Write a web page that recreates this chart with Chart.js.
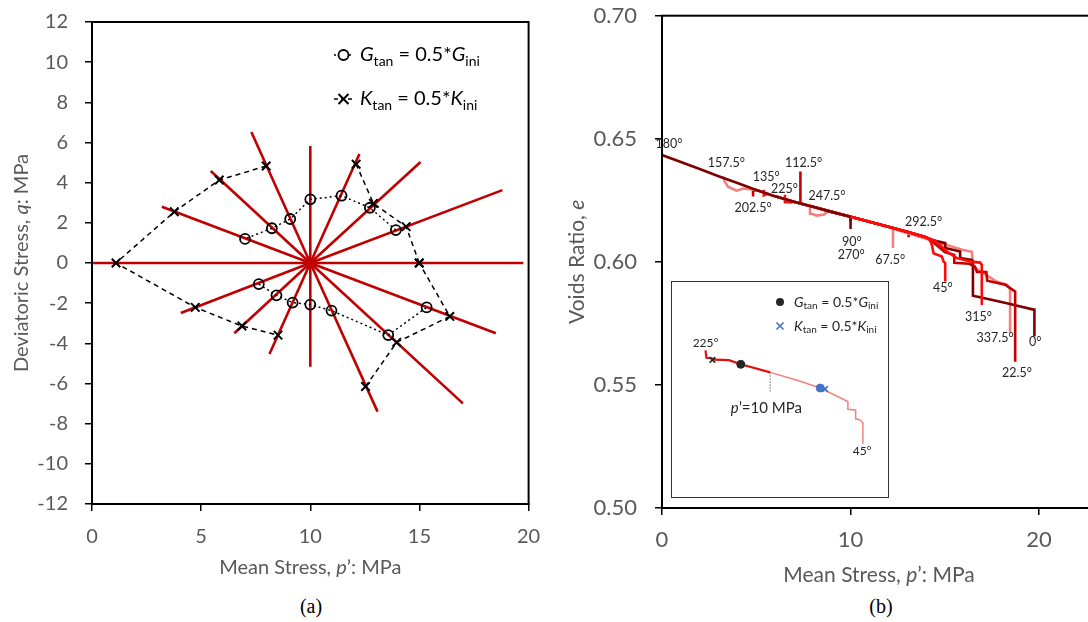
<!DOCTYPE html>
<html>
<head>
<meta charset="utf-8">
<script src="https://cdn.jsdelivr.net/npm/chart.js@4.4.1/dist/chart.umd.min.js"></script>
<style>
  html, body { margin: 0; padding: 0; background: #fff; }
  body { width: 1088px; height: 622px; overflow: hidden; position: relative; }
  .panel { position: absolute; top: 0; }
  #panelA { left: 0; }
  #panelB { left: 540px; }
  #inset { position: absolute; left: 671px; top: 281px; width: 218px; height: 217px;
           box-sizing: border-box; border: 1.5px solid #333; background: #fff; }
  #inset canvas { position: absolute; left: 0; top: 0; }
  .caption { position: absolute; top: 595px; font-family: "Liberation Serif", serif; font-size: 20px;
             color: #000; transform: translateX(-50%); }
</style>
</head>
<body>
<div class="panel" id="panelA"><canvas id="chartA" width="545" height="590"></canvas></div>
<div class="panel" id="panelB"><canvas id="chartB" width="610" height="590"></canvas></div>
<div id="inset"><canvas id="chartInset" width="215" height="214"></canvas></div>
<div class="caption" style="left:311px">(a)</div>
<div class="caption" style="left:881px">(b)</div>
<script>
// ---------- (a) stress paths in p'-q space ----------
const probeAngles = [0, 22.5, 45, 67.5, 90, 112.5, 135, 157.5, 180, 202.5, 225, 247.5, 270, 292.5, 315, 337.5];
const startP = 10, startQ = 0;
const probeEndP = [19.76, 18.8, 15.05, 12.25, 10.0, 7.3, 5.44, 3.2, 0.05, 4.07, 6.52, 8.13, 10.0, 13.08, 16.99, 18.5];
const probeEndQ = [0, 3.63, 5.03, 5.43, 5.83, 6.52, 4.58, 2.8, 0, -2.49, -3.5, -4.53, -5.17, -7.4, -6.99, -3.5];

// G_tan = 0.5*G_ini points, one per probe (null where none)
const gTanP = [null, 13.92, 12.73, 11.43, 10.0, 9.08, 8.24, 7.01, null, 7.64, 8.45, 9.19, 10.0, 10.97, 13.57, 15.33];
const gTanQ = [null, 1.64, 2.75, 3.35, 3.17, 2.19, 1.73, 1.2, null, -1.05, -1.61, -1.97, -2.07, -2.37, -3.59, -2.21];
// K_tan = 0.5*K_ini points
const kTanP = [14.99, 14.39, 12.89, 12.10, null, 7.98, 5.83, 3.77, 1.10, 4.73, 6.87, 8.52, null, 12.53, 13.96, 16.39];
const kTanQ = [0, 1.81, 2.97, 4.92, null, 4.83, 4.13, 2.55, 0, -2.21, -3.14, -3.59, null, -6.15, -3.95, -2.66];

// ---------- (b) voids ratio vs mean stress ----------
const baseP = [0, 1, 2, 3, 4, 5, 6, 7, 8, 9, 10, 11, 12, 13, 14];
const baseE = [0.6434, 0.6406, 0.6377, 0.6348, 0.6320, 0.6292, 0.6266, 0.6244, 0.6224, 0.6203, 0.6183, 0.6163, 0.6143, 0.6122, 0.6100];

const tail0   = [[14.31,0.6089],[15.02,0.6076],[15.02,0.6056],[15.81,0.6042],[15.81,0.6015],[16.43,0.6008],[16.49,0.6001],[16.49,0.5862],[17.05,0.5853],[18.29,0.5832],[19.70,0.5806],[19.75,0.5806],[19.75,0.5697]];
const tail22  = [[14.3,0.6085],[15.0,0.6040],[15.5,0.6028],[15.5,0.5996],[16.3,0.5992],[16.6,0.5980],[16.7,0.5959],[17.2,0.5959],[17.25,0.5923],[18.2,0.5907],[18.6,0.5886],[18.73,0.5880],[18.73,0.5594]];
const tail45  = [[14.2,0.6090],[14.31,0.6069],[14.4,0.6035],[14.84,0.6022],[14.93,0.6001],[15.02,0.5995],[15.02,0.5920]];
const tail67  = [[12.25,0.6135],[12.25,0.6056]];
const tail90  = [[10,0.6183],[10,0.6133]];
const tail112 = [[7.34,0.6237],[7.34,0.6367]];
const tail135 = [[5.6,0.6276],[5.4,0.6270],[5.4,0.6293]];
const tail157 = [[4.3,0.6298],[3.95,0.6289],[3.5,0.6305],[3.33,0.6326],[3.24,0.6346]];
const tail180 = [[0,0.6434]];
const tail202 = [[4.83,0.6288],[4.83,0.6265]];
const tail225 = [[6.84,0.6241],[6.52,0.6243],[6.52,0.6273]];
const tail247 = [[8.8,0.6205],[8.6,0.6192],[8.2,0.6188],[7.9,0.6196],[7.85,0.6222]];
const tail270 = [[10,0.6183],[10,0.6165]];
const tail292 = [[13.08,0.6117],[13.08,0.6100]];
const tail315 = [[14.5,0.6085],[15.11,0.6042],[15.64,0.6015],[16.43,0.6001],[16.87,0.5997],[16.96,0.5988],[16.96,0.5825]];
const tail337 = [[12.63,0.6125],[14.75,0.6077],[15.92,0.6049],[16.43,0.6041],[16.5,0.5980],[17.03,0.5955],[17.76,0.5919],[18.29,0.5907],[18.46,0.5890],[18.46,0.5712]];
const probeTails = [tail0, tail22, tail45, tail67, tail90, tail112, tail135, tail157,
                    tail180, tail202, tail225, tail247, tail270, tail292, tail315, tail337];

// where each angle label sits (p', e)
const angleLabelP = [19.79, 18.82, 14.9, 12.1, 10.07, 7.51, 5.53, 3.41, 0.37, 4.83, 6.50, 8.75, 10.04, 13.87, 16.78, 17.67];
const angleLabelE = [0.5676, 0.5548, 0.5893, 0.6008, 0.6080, 0.6403, 0.6344, 0.6401, 0.6477, 0.6218, 0.6296, 0.6268, 0.6026, 0.6161, 0.5778, 0.5690];

// inset: the 225 deg / 45 deg pair
const insetRedP = [6.505, 6.556, 6.84, 7.01, 7.77, 8.41, 10.0];
const insetRedE = [0.6273, 0.6243, 0.6241, 0.6235, 0.6233, 0.6216, 0.6183];
const insetPinkP = [10.0, 11.49, 12.70, 14.19, 14.19, 14.61, 14.61, 14.83, 15.0, 15.0];
const insetPinkE = [0.6183, 0.6150, 0.6119, 0.6064, 0.6032, 0.6028, 0.5993, 0.5989, 0.5978, 0.5891];
const insetGP = [8.41, 12.70], insetGE = [0.6216, 0.6119];
const insetKP = [6.88, 12.96], insetKE = [0.6234, 0.6115];

const maroon = '#7f0000', darkRed = '#c40000', brightRed = '#ff0a0a', salmon = '#f4807e';
const probeColours = [maroon, darkRed, brightRed, salmon, maroon, darkRed, brightRed, salmon,
                      maroon, darkRed, brightRed, salmon, maroon, darkRed, brightRed, salmon];

const tickGrey = '#595959';
const font = 'Lato';

// ---------- helpers ----------
function fontOf(size, italic) {
  return (italic ? 'italic ' : '') + size + 'px ' + font;
}
// draws a run of text pieces [{t, s, i, dy}] starting at x (align 'left') or centred on x
function drawRich(ctx, parts, x, y, align) {
  let w = 0;
  parts.forEach(p => { ctx.font = fontOf(p.s, p.i); w += ctx.measureText(p.t).width; });
  let cx = align === 'left' ? x : x - w / 2;
  ctx.textAlign = 'left';
  ctx.textBaseline = 'middle';
  parts.forEach(p => {
    ctx.font = fontOf(p.s, p.i);
    ctx.fillText(p.t, cx, y + (p.dy || 0));
    cx += ctx.measureText(p.t).width;
  });
}
function titleParts(pre, sym, post, size) {
  return [{t: pre, s: size}, {t: sym, s: size, i: true}, {t: post, s: size}];
}
function crossMark(ctx, x, y, r) {
  ctx.beginPath();
  ctx.moveTo(x - r, y - r); ctx.lineTo(x + r, y + r);
  ctx.moveTo(x - r, y + r); ctx.lineTo(x + r, y - r);
  ctx.stroke();
}

const boxPlugin = {
  id: 'box',
  afterDraw(chart) {
    const {ctx, chartArea: a} = chart;
    ctx.save();
    ctx.strokeStyle = '#000';
    ctx.lineWidth = 2;
    ctx.strokeRect(a.left, a.top, a.right - a.left, a.bottom - a.top);
    ctx.restore();
  }
};

// fixed-size axes: the end labels are allowed to hang into the layout padding
function fixedX(height) {
  return s => { s.height = height; s.paddingLeft = 0; s.paddingRight = 0; };
}
function fixedY(width) {
  return s => { s.width = width; s.paddingTop = 0; s.paddingBottom = 0; };
}

function axisOptions(min, max, step, size, padding, tickFmt) {
  return {
    type: 'linear', min: min, max: max,
    ticks: { stepSize: step, color: tickGrey, font: { family: font, size: size }, padding: padding,
             callback: tickFmt || (v => v) },
    grid: { drawOnChartArea: false, drawTicks: true, tickLength: 7, color: '#000', lineWidth: 1.5 },
    border: { display: true, color: '#000', width: 2 },
    title: { display: false }
  };
}

// ---------- chart (a) ----------
const probeSets = probeAngles.map((a, i) => ({
  data: [{x: startP, y: startQ}, {x: probeEndP[i], y: probeEndQ[i]}],
  showLine: true, borderColor: '#c00000', borderWidth: 2.6, pointRadius: 0
}));

const gPoints = probeAngles.map((a, i) => ({x: gTanP[i], y: gTanQ[i]}));
const kPoints = probeAngles.map((a, i) => ({x: kTanP[i], y: kTanQ[i]}));
kPoints.push(kPoints[0]);

const gSet = {
  data: gPoints, showLine: true, spanGaps: false,
  borderColor: '#000', borderWidth: 1.5, borderDash: [2, 3],
  pointStyle: 'circle', pointRadius: 5, pointBorderWidth: 1.8,
  pointBorderColor: '#000', pointBackgroundColor: 'rgba(0,0,0,0)'
};
const kSet = {
  data: kPoints, showLine: true, spanGaps: false,
  borderColor: '#000', borderWidth: 1.5, borderDash: [5, 4],
  pointStyle: 'crossRot', pointRadius: 6, pointBorderWidth: 2,
  pointBorderColor: '#000'
};

const decorA = {
  id: 'decorA',
  afterDraw(chart) {
    const {ctx, chartArea: a} = chart;
    ctx.save();
    ctx.fillStyle = tickGrey;
    drawRich(ctx, titleParts('Mean Stress, ', 'p', '\u2019: MPa', 20), (a.left + a.right) / 2, 568);
    ctx.translate(22, (a.top + a.bottom) / 2);
    ctx.rotate(-Math.PI / 2);
    drawRich(ctx, titleParts('Deviatoric Stress, ', 'q', ': MPa', 20), 0, 0);
    ctx.restore();

    // legend
    ctx.save();
    ctx.strokeStyle = '#000';
    ctx.lineWidth = 1.5;
    ctx.setLineDash([2, 3]);
    ctx.beginPath(); ctx.moveTo(334, 55); ctx.lineTo(353, 55); ctx.stroke();
    ctx.setLineDash([4, 3]);
    ctx.beginPath(); ctx.moveTo(334, 99); ctx.lineTo(353, 99); ctx.stroke();
    ctx.setLineDash([]);
    ctx.lineWidth = 1.8;
    ctx.fillStyle = '#fff';
    ctx.beginPath(); ctx.arc(343.5, 55, 5, 0, Math.PI * 2); ctx.fill(); ctx.stroke();
    ctx.lineWidth = 2;
    crossMark(ctx, 343.5, 99, 5);
    ctx.fillStyle = '#000';
    drawRich(ctx, [{t: 'G', s: 20, i: true}, {t: 'tan', s: 14, dy: 6}, {t: ' = 0.5*', s: 20},
                   {t: 'G', s: 20, i: true}, {t: 'ini', s: 14, dy: 6}], 360, 55, 'left');
    drawRich(ctx, [{t: 'K', s: 20, i: true}, {t: 'tan', s: 14, dy: 6}, {t: ' = 0.5*', s: 20},
                   {t: 'K', s: 20, i: true}, {t: 'ini', s: 14, dy: 6}], 360, 99, 'left');
    ctx.restore();
  }
};

const xA = axisOptions(0, 20, 5, 20, 14);
xA.afterFit = fixedX(86);
const yA = axisOptions(-12, 12, 2, 20, 17);
yA.afterFit = fixedY(92);

new Chart(document.getElementById('chartA'), {
  type: 'scatter',
  data: { datasets: [kSet, gSet, ...probeSets] },
  options: {
    responsive: false, animation: false, devicePixelRatio: 1,
    layout: { padding: { top: 22, right: 16.4, left: 0, bottom: 0 } },
    plugins: { legend: { display: false }, tooltip: { enabled: false } },
    scales: { x: xA, y: yA }
  },
  plugins: [boxPlugin, decorA]
});

// ---------- chart (b) ----------
function buildPath(tail) {
  const endP = tail[0][0];
  const pts = [];
  if (endP >= startP) {
    baseP.forEach((p, i) => { if (p >= startP && p < endP) pts.push({x: p, y: baseE[i]}); });
  } else {
    for (let i = baseP.length - 1; i >= 0; i--) {
      if (baseP[i] <= startP && baseP[i] > endP) pts.push({x: baseP[i], y: baseE[i]});
    }
  }
  tail.forEach(t => pts.push({x: t[0], y: t[1]}));
  return pts;
}

const drawOrder = [180, 45, 315, 22.5, 0, 337.5, 67.5, 292.5, 157.5, 135, 112.5, 202.5, 225, 247.5, 90, 270];
const pathSets = drawOrder.map(a => {
  const i = probeAngles.indexOf(a);
  return {
    data: buildPath(probeTails[i]), showLine: true, borderColor: probeColours[i],
    borderWidth: 2.6, pointRadius: 0, tension: 0
  };
});

const decorB = {
  id: 'decorB',
  afterDraw(chart) {
    const {ctx, chartArea: a, scales} = chart;
    ctx.save();
    ctx.fillStyle = '#262626';
    ctx.font = fontOf(12.5);
    ctx.textAlign = 'center';
    ctx.textBaseline = 'middle';
    probeAngles.forEach((ang, i) => {
      ctx.fillText(ang + '\u00b0', scales.x.getPixelForValue(angleLabelP[i]), scales.y.getPixelForValue(angleLabelE[i]));
    });
    ctx.fillStyle = tickGrey;
    drawRich(ctx, titleParts('Mean Stress, ', 'p', '\u2019: MPa', 21), 339, 575);
    ctx.translate(37, (a.top + a.bottom) / 2);
    ctx.rotate(-Math.PI / 2);
    drawRich(ctx, titleParts('Voids Ratio, ', 'e', '', 21), 0, 0);
    ctx.restore();
  }
};

const xB = axisOptions(0, 25, 10, 22, 12);
xB.afterFit = fixedX(82);
const yB = axisOptions(0.5, 0.7, 0.05, 22, 18, v => v.toFixed(2));
yB.afterFit = fixedY(122);

new Chart(document.getElementById('chartB'), {
  type: 'scatter',
  data: { datasets: pathSets },
  options: {
    responsive: false, animation: false, devicePixelRatio: 1,
    layout: { padding: { top: 15.7, right: 16.6, left: 0, bottom: 0 } },
    plugins: { legend: { display: false }, tooltip: { enabled: false } },
    scales: { x: xB, y: yB }
  },
  plugins: [boxPlugin, decorB]
});

// ---------- inset ----------
const toPts = (ps, es) => ps.map((p, i) => ({x: p, y: es[i]}));

const decorInset = {
  id: 'decorInset',
  afterDraw(chart) {
    const {ctx, scales} = chart;
    const px = v => scales.x.getPixelForValue(v), py = v => scales.y.getPixelForValue(v);
    ctx.save();
    ctx.fillStyle = '#262626';
    ctx.font = fontOf(12);
    ctx.textAlign = 'center';
    ctx.textBaseline = 'middle';
    ctx.fillText('225\u00b0', px(6.51), py(0.6301));
    ctx.fillText('45\u00b0', px(14.96), py(0.5859));
    drawRich(ctx, [{t: 'p', s: 15, i: true}, {t: '\u2019=10 MPa', s: 15}], px(9.79), py(0.6038));
    // legend
    ctx.fillStyle = '#262626';
    ctx.beginPath(); ctx.arc(108, 20, 4, 0, Math.PI * 2); ctx.fill();
    ctx.strokeStyle = '#4472c4'; ctx.lineWidth = 1.6;
    crossMark(ctx, 108, 44, 3.5);
    drawRich(ctx, [{t: 'G', s: 14, i: true}, {t: 'tan', s: 10, dy: 4}, {t: ' = 0.5*', s: 14},
                   {t: 'G', s: 14, i: true}, {t: 'ini', s: 10, dy: 4}], 122, 20, 'left');
    drawRich(ctx, [{t: 'K', s: 14, i: true}, {t: 'tan', s: 10, dy: 4}, {t: ' = 0.5*', s: 14},
                   {t: 'K', s: 14, i: true}, {t: 'ini', s: 10, dy: 4}], 122, 44, 'left');
    ctx.restore();
  }
};

new Chart(document.getElementById('chartInset'), {
  type: 'scatter',
  data: {
    datasets: [
      { data: toPts(insetGP, insetGE), pointStyle: 'circle', pointRadius: 4,
        pointBackgroundColor: ['#262626', '#4472c4'], pointBorderColor: ['#262626', '#4472c4'] },
      { data: toPts(insetKP, insetKE), pointStyle: 'crossRot', pointRadius: 4, pointBorderWidth: 1.6,
        pointBorderColor: ['#262626', '#4472c4'] },
      { data: toPts(insetRedP, insetRedE), showLine: true, borderColor: '#e01010', borderWidth: 2.2, pointRadius: 0 },
      { data: toPts(insetPinkP, insetPinkE), showLine: true, borderColor: '#f4807e', borderWidth: 1.5, pointRadius: 0 },
      { data: [{x: 10, y: 0.6184}, {x: 10, y: 0.6105}], showLine: true, borderColor: '#888',
        borderWidth: 1.4, borderDash: [1.5, 1.5], pointRadius: 0 }
    ]
  },
  options: {
    responsive: false, animation: false, devicePixelRatio: 1,
    layout: { padding: 0 },
    plugins: { legend: { display: false }, tooltip: { enabled: false } },
    scales: {
      x: { type: 'linear', display: false, min: 5.0, max: 16.0 },
      y: { type: 'linear', display: false, min: 0.570, max: 0.653 }
    }
  },
  plugins: [decorInset]
});
</script>
</body>
</html>
